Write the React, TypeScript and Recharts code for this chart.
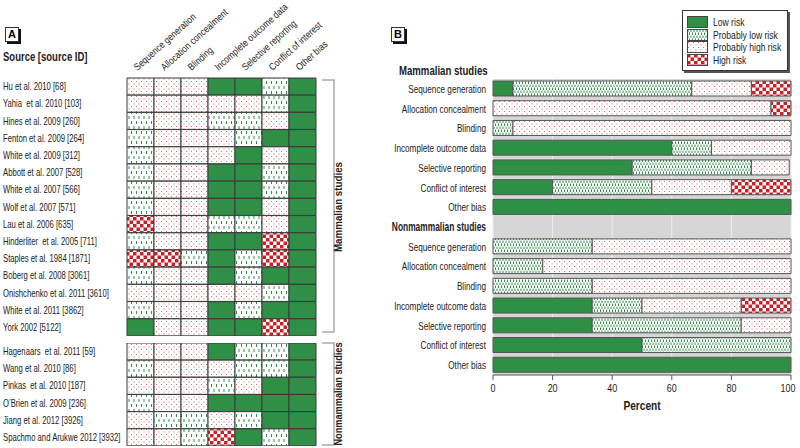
import React from "react";
import { BarChart, Bar, XAxis, YAxis, Cell, CartesianGrid, Legend } from "recharts";

const FONT = "'Liberation Sans Narrow', 'Arial Narrow', 'Liberation Sans', Arial, sans-serif";

// ---------- Panel A data ----------
const domains = [
  "Sequence generation",
  "Allocation concealment",
  "Blinding",
  "Incomplete outcome data",
  "Selective reporting",
  "Conflict of interest",
  "Other bias",
];

const mammalianSources = [
  "Hu et al. 2010 [68]",
  "Yahia  et al. 2010 [103]",
  "Hines et al. 2009 [260]",
  "Fenton et al. 2009 [264]",
  "White et al. 2009 [312]",
  "Abbott et al. 2007 [528]",
  "White et al. 2007 [566]",
  "Wolf et al. 2007 [571]",
  "Lau et al. 2006 [635]",
  "Hinderliter  et al. 2005 [711]",
  "Staples et al. 1984 [1871]",
  "Boberg et al. 2008 [3061]",
  "Onishchenko et al. 2011 [3610]",
  "White et al. 2011 [3862]",
  "York 2002 [5122]",
];

// L = low, PL = probably low, PH = probably high, H = high
const mammalianRatings = [
  "PH PH PH L L PL L",
  "PH PH PH PH PH PL L",
  "PL PH PH PL PL PH L",
  "PL PH PH PH PL L L",
  "PL PH PH PH L PH L",
  "PL PH PH L L PL L",
  "PL PH PH L L PL L",
  "PL PH PH L L PH L",
  "H PH PH PL PL PH L",
  "PL PH PH L L H L",
  "H H PL L PL H L",
  "PL PH PH L PL L L",
  "PH PH PH PH PH PL L",
  "PL PH PH L PL L L",
  "L PH PH L L H L",
];

const nonmammalianSources = [
  "Hagenaars  et al. 2011 [59]",
  "Wang et al. 2010 [86]",
  "Pinkas  et al. 2010 [187]",
  "O\u2019Brien et al. 2009 [236]",
  "Jiang et al. 2012 [3926]",
  "Spachmo and Arukwe 2012 [3932]",
];

const nonmammalianRatings = [
  "PH PH PH L PL PL L",
  "PL PH PH PH PL PL L",
  "PH PH PH PL PH L L",
  "PL PH PH L L L L",
  "PH PL PL PH PL L L",
  "PH PH PL H L PL L",
];

// ---------- Panel B data (percent) ----------
const mamLow = [6.7, 0, 0, 60, 46.7, 20, 100];
const mamProbLow = [60, 0, 6.7, 13.3, 40, 33.3, 0];
const mamProbHigh = [20, 93.3, 93.3, 26.7, 12.7, 26.7, 0];
const mamHigh = [13.3, 6.7, 0, 0, 0, 20, 0];

const nonLow = [0, 0, 0, 33.3, 33.3, 50, 100];
const nonProbLow = [33.3, 16.7, 33.3, 16.7, 50, 50, 0];
const nonProbHigh = [66.7, 83.3, 66.7, 33.3, 16.7, 0, 0];
const nonHigh = [0, 0, 0, 16.7, 0, 0, 0];

const percentTicks = [0, 20, 40, 60, 80, 100];
const riskNames = ["Low risk", "Probably low risk", "Probably high risk", "High risk"];

const GREEN = "#2f8f47";
const FILL: Record<string, string> = {
  L: GREEN,
  PL: "url(#patPL)",
  PH: "url(#patPH)",
  H: "url(#patH)",
};
const FILL_B: Record<string, string> = {
  low: GREEN,
  plow: "url(#patPLb)",
  phigh: "url(#patPH)",
  high: "url(#patH)",
};

const buildRows = (sources: string[], ratings: string[]) =>
  sources.map((s, r) => {
    const row: any = { name: s, key: "r" + r };
    for (let i = 0; i < 7; i++) row["c" + i] = 1;
    row.codes = ratings[r].split(" ");
    return row;
  });

const mamRows = buildRows(mammalianSources, mammalianRatings);
const nonRows = buildRows(nonmammalianSources, nonmammalianRatings);

const bRows: any[] = [];
domains.forEach((d, i) =>
  bRows.push({ key: "m" + i, name: d, low: mamLow[i], plow: mamProbLow[i], phigh: mamProbHigh[i], high: mamHigh[i] })
);
bRows.push({ key: "hdr", name: "Nonmammalian studies", header: true });
domains.forEach((d, i) =>
  bRows.push({ key: "n" + i, name: d, low: nonLow[i], plow: nonProbLow[i], phigh: nonProbHigh[i], high: nonHigh[i] })
);
const bLabel: Record<string, any> = {};
bRows.forEach((r) => (bLabel[r.key] = r));

// condensed SVG text helper
const CText = ({ x, y, sx = 0.8, rot = 0, children, ...rest }: any) => (
  <text
    x={0}
    y={0}
    transform={`translate(${x} ${y})${rot ? ` rotate(${rot})` : ""} scale(${sx} 1)`}
    fontFamily={FONT}
    fill="#222"
    style={{ whiteSpace: "pre" }}
    {...rest}
  >
    {children}
  </text>
);

const Patterns = () => (
  <svg width={0} height={0} style={{ position: "absolute" }}>
    <defs>
      <pattern id="patPL" patternUnits="userSpaceOnUse" width={5} height={10}>
        <rect width={5} height={10} fill="#fff" />
        <rect x={1} y={1} width={1} height={3} fill={GREEN} />
        <rect x={3.5} y={6} width={1} height={3} fill={GREEN} />
      </pattern>
      <pattern id="patPLb" patternUnits="userSpaceOnUse" width={3} height={6}>
        <rect width={3} height={6} fill="#fff" />
        <rect x={0.5} y={0.5} width={1} height={2.5} fill={GREEN} />
        <rect x={2} y={3.5} width={1} height={2.5} fill={GREEN} />
      </pattern>
      <pattern id="patPH" patternUnits="userSpaceOnUse" width={5} height={5}>
        <rect width={5} height={5} fill="#fff" />
        <rect x={1} y={1} width={1} height={1} fill="#d86a6a" />
        <rect x={3.5} y={3.5} width={1} height={1} fill="#d86a6a" />
      </pattern>
      <pattern id="patH" patternUnits="userSpaceOnUse" width={7} height={7}>
        <rect width={7} height={7} fill="#fff" />
        <rect x={0} y={0} width={3.5} height={3.5} fill="#cc2026" />
        <rect x={3.5} y={3.5} width={3.5} height={3.5} fill="#cc2026" />
      </pattern>
    </defs>
  </svg>
);

const HeaderTick = (props: any) => {
  const { x, payload } = props;
  const idx = Math.floor(payload.value);
  return (
    <CText x={x - 3} y={71} rot={-42} sx={0.84} fontSize={10}>
      {domains[idx]}
    </CText>
  );
};

const SourceTick = (props: any) => {
  const { y, payload } = props;
  return (
    <CText x={3} y={y + 3.5} sx={0.77} fontSize={10}>
      {payload.value}
    </CText>
  );
};

const DomainTick = (props: any) => {
  const { y, payload } = props;
  const r = bLabel[payload.value];
  if (!r) return null;
  return (
    <CText
      x={98}
      y={y + 4}
      sx={r.header ? 0.7 : 0.78}
      textAnchor="end"
      fontSize={r.header ? 12 : 10.5}
      fontWeight={r.header ? "bold" : "normal"}
    >
      {r.name}
    </CText>
  );
};

const PercentTick = (props: any) => {
  const { x, y, payload } = props;
  return (
    <CText x={x} y={y + 10} sx={0.85} textAnchor="middle" fontSize={10.5}>
      {payload.value}
    </CText>
  );
};

const PercentLabel = (props: any) => {
  const vb = props.viewBox || { x: 105, y: 375, width: 298, height: 36 };
  return (
    <CText x={vb.x + vb.width / 2} y={vb.y + 35} sx={0.78} textAnchor="middle" fontSize={13} fontWeight="bold">
      Percent
    </CText>
  );
};

const renderCellBars = (rows: any[]) =>
  [0, 1, 2, 3, 4, 5, 6].map((i) => (
    <Bar key={i} dataKey={"c" + i} stackId="a" isAnimationActive={false} stroke="#3a3a3a" strokeWidth={1}>
      {rows.map((r, j) => (
        <Cell key={j} fill={FILL[r.codes[i]]} />
      ))}
    </Bar>
  ));

const LegendBox = () => (
  <div
    style={{
      border: "1px solid #333",
      boxShadow: "2px 2px 0 #555",
      background: "#fff",
      padding: "5px 4px 4px 4px",
      width: 106,
      fontFamily: FONT,
      fontSize: 11,
      color: "#222",
      boxSizing: "border-box",
    }}
  >
    {["low", "plow", "phigh", "high"].map((k, i) => (
      <div key={k} style={{ display: "flex", alignItems: "center", height: 12.5, whiteSpace: "nowrap" }}>
        <svg width={21} height={12} style={{ marginRight: 5, flex: "none" }}>
          <rect x={0.5} y={0.5} width={20} height={11} fill={FILL_B[k]} stroke="#444" />
        </svg>
        <span style={{ display: "inline-block", transform: "scaleX(0.78)", transformOrigin: "left center" }}>
          {riskNames[i]}
        </span>
      </div>
    ))}
  </div>
);

const PanelTag = ({ label, left }: { label: string; left: number }) => (
  <div
    style={{
      position: "absolute",
      left,
      top: 27,
      width: 12,
      height: 13,
      border: "1px solid #333",
      boxShadow: "2px 2px 0 #111",
      background: "#fff",
      fontFamily: FONT,
      fontWeight: "bold",
      fontSize: 11,
      lineHeight: "13px",
      textAlign: "center",
    }}
  >
    {label}
  </div>
);

export default function App() {
  return (
    <div style={{ position: "absolute", left: 0, top: 0, width: 800, height: 448, background: "#fff", overflow: "hidden", fontFamily: FONT }}>
      <Patterns />
      <PanelTag label="A" left={5} />
      <PanelTag label="B" left={391} />
      <div
        style={{
          position: "absolute",
          left: 3,
          top: 50,
          fontSize: 12.5,
          fontWeight: "bold",
          color: "#222",
          whiteSpace: "nowrap",
          transform: "scaleX(0.76)",
          transformOrigin: "left top",
        }}
      >
        Source [source ID]
      </div>

      {/* Panel A: mammalian */}
      <div style={{ position: "absolute", left: 0, top: 0 }}>
        <BarChart
          width={340}
          height={336}
          data={mamRows}
          layout="vertical"
          margin={{ top: 0, right: 24, bottom: 0, left: 0 }}
          barCategoryGap={0}
        >
          <XAxis
            type="number"
            domain={[0, 7]}
            ticks={[0.5, 1.5, 2.5, 3.5, 4.5, 5.5, 6.5]}
            orientation="top"
            height={78}
            axisLine={false}
            tickLine={false}
            interval={0}
            tick={<HeaderTick />}
          />
          <YAxis type="category" dataKey="name" width={127} axisLine={false} tickLine={false} interval={0} tick={<SourceTick />} />
          {renderCellBars(mamRows)}
        </BarChart>
      </div>

      {/* Panel A: nonmammalian */}
      <div style={{ position: "absolute", left: 0, top: 343 }}>
        <BarChart
          width={340}
          height={103}
          data={nonRows}
          layout="vertical"
          margin={{ top: 0, right: 24, bottom: 0, left: 0 }}
          barCategoryGap={0}
        >
          <XAxis type="number" domain={[0, 7]} hide />
          <YAxis type="category" dataKey="name" width={127} axisLine={false} tickLine={false} interval={0} tick={<SourceTick />} />
          {renderCellBars(nonRows)}
        </BarChart>
      </div>

      {/* Brackets */}
      <svg style={{ position: "absolute", left: 0, top: 0 }} width={400} height={448}>
        <polyline points="322,80 334,80 334,332 322,332" fill="none" stroke="#aaa" strokeWidth={1.5} />
        <polyline points="322,343 334,343 334,445 322,445" fill="none" stroke="#aaa" strokeWidth={1.5} />
        <CText x={342} y={207} rot={-90} sx={0.85} textAnchor="middle" fontSize={11.5} fontWeight="bold">
          Mammalian studies
        </CText>
        <CText x={342} y={394} rot={-90} sx={0.8} textAnchor="middle" fontSize={11.5} fontWeight="bold">
          Nonmammalian studies
        </CText>
      </svg>

      {/* Panel B */}
      <div
        style={{
          position: "absolute",
          left: 379,
          top: 64,
          width: 100,
          textAlign: "right",
          fontSize: 12,
          fontWeight: "bold",
          color: "#222",
          whiteSpace: "nowrap",
          transform: "scaleX(0.8)",
          transformOrigin: "right top",
        }}
      >
        Mammalian studies
      </div>
      {/* plot background */}
      <div style={{ position: "absolute", left: 493, top: 79, width: 298, height: 296, background: "#d6d6d6" }} />
      <div style={{ position: "absolute", left: 388, top: 0 }}>
        <BarChart
          width={412}
          height={448}
          data={bRows}
          layout="vertical"
          margin={{ top: 79, right: 9, bottom: 37, left: 0 }}
          barSize={15}
        >
          <CartesianGrid fill="#d6d6d6" fillOpacity={1} horizontal={false} stroke="#eeeeee" />
          <XAxis
            type="number"
            domain={[0, 100]}
            ticks={percentTicks}
            height={36}
            tick={<PercentTick />}
            axisLine={{ stroke: "#555" }}
            tickLine={{ stroke: "#555" }}
            tickSize={5}
            label={<PercentLabel />}
          />
          <YAxis type="category" dataKey="key" width={105} axisLine={false} tickLine={false} interval={0} tick={<DomainTick />} />
          <Legend
            layout="vertical"
            verticalAlign="middle"
            align="center"
            wrapperStyle={{ position: "absolute", left: 294, top: 10, width: 110 }}
            content={<LegendBox />}
          />
          <Bar dataKey="low" name={riskNames[0]} stackId="b" fill={FILL_B.low} stroke="#555" isAnimationActive={false} />
          <Bar dataKey="plow" name={riskNames[1]} stackId="b" fill={FILL_B.plow} stroke="#555" isAnimationActive={false} />
          <Bar dataKey="phigh" name={riskNames[2]} stackId="b" fill={FILL_B.phigh} stroke="#555" isAnimationActive={false} />
          <Bar dataKey="high" name={riskNames[3]} stackId="b" fill={FILL_B.high} stroke="#555" isAnimationActive={false} />
        </BarChart>
      </div>
    </div>
  );
}
